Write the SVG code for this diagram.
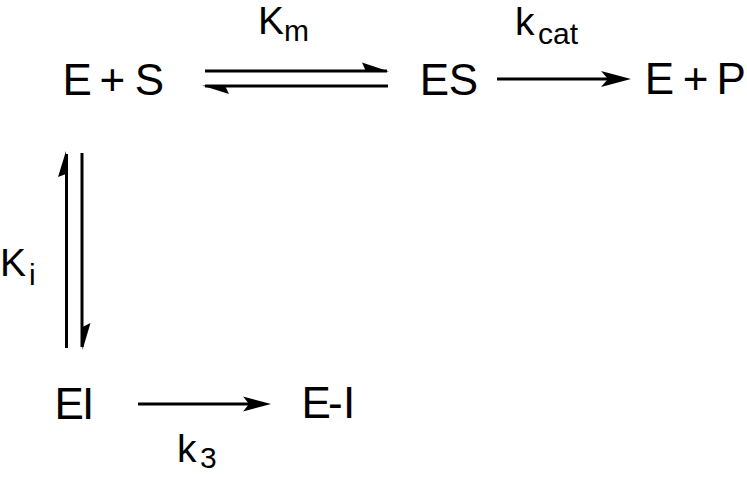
<svg xmlns="http://www.w3.org/2000/svg" width="747" height="479" viewBox="0 0 747 479">
<style>
.sp{font-family:"Liberation Sans",Arial,Helvetica,sans-serif;font-size:44px;fill:#000}
.lb{font-family:"Liberation Sans",Arial,Helvetica,sans-serif;font-size:39px;fill:#000}
.sb{font-size:30px}
.ln{stroke:#000;stroke-width:3;fill:none}
.hd{fill:#000;stroke:none}
</style>
<rect width="747" height="479" fill="#fff"/>
<g id="connectors">
<line class="ln" x1="205" y1="71" x2="387" y2="71"/>
<path class="hd" d="M389,71.5 L362,62.5 L366,71.5 Z"/>
<line class="ln" x1="205" y1="86" x2="388" y2="86"/>
<path class="hd" d="M202,85.5 L229,94 L225,85.5 Z"/>
<line class="ln" x1="497" y1="79" x2="620" y2="79"/>
<path class="hd" d="M631,79 L601,71 L608,79 L601,87 Z"/>
<line class="ln" x1="66.5" y1="154" x2="66.5" y2="348"/>
<path class="hd" d="M66,151 L58,177 L66,174 Z"/>
<line class="ln" x1="82" y1="153" x2="82" y2="347"/>
<path class="hd" d="M82.5,350 L90.5,323 L82.5,327 Z"/>
<line class="ln" x1="138" y1="404" x2="260" y2="404"/>
<path class="hd" d="M271,404 L243,396.5 L249,404 L243,411.5 Z"/>
</g>
<g id="n-ES0"><text class="sp" x="62.5 91.8 99.5 125.2 134.7" y="95">E + S</text></g>
<g id="n-ES"><text class="sp" x="419.8 448.7" y="94.5">ES</text></g>
<g id="n-EP"><text class="sp" x="644.8 674.1 682.8 708.5 716.5" y="93.5">E + P</text></g>
<g id="n-EI"><text class="sp" x="54.5 81.9" y="419">EI</text></g>
<g id="n-E-I"><text class="sp" x="301.5 328 343" y="418">E-I</text></g>
<g id="l-Km"><text class="lb" x="258" y="34">K<tspan class="sb" x="284" y="41">m</tspan></text></g>
<g id="l-kcat"><text class="lb" x="515" y="35">k<tspan class="sb" x="538" y="44">cat</tspan></text></g>
<g id="l-Ki"><text class="lb" x="0" y="276">K<tspan class="sb" x="29" y="285">i</tspan></text></g>
<g id="l-k3"><text class="lb" x="177" y="462">k<tspan class="sb" x="200" y="468">3</tspan></text></g>
</svg>
